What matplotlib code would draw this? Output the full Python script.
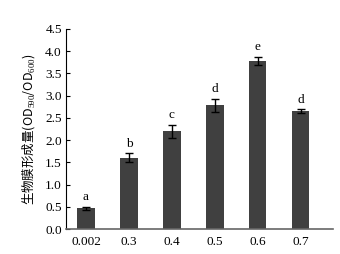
import matplotlib
matplotlib.use("Agg")
import matplotlib.pyplot as plt

categories = ["0.002", "0.3", "0.4", "0.5", "0.6", "0.7"]
values = [0.47, 1.60, 2.20, 2.78, 3.78, 2.65]
errors = [0.03, 0.10, 0.15, 0.15, 0.10, 0.04]
letters = ["a", "b", "c", "d", "e", "d"]
yticks = [0.0, 0.5, 1.0, 1.5, 2.0, 2.5, 3.0, 3.5, 4.0, 4.5]

plt.rcParams['font.family'] = ['Liberation Serif', 'Noto Sans CJK SC']
plt.rcParams['mathtext.fontset'] = 'custom'
plt.rcParams['mathtext.rm'] = 'Liberation Serif'

fig = plt.figure(figsize=(3.4, 2.54), dpi=100)
ax = fig.add_axes([0.194, 0.098, 0.785, 0.788])

x = list(range(len(categories)))
ax.bar(x, values, width=0.4, color='#404040', zorder=2)
ax.errorbar(x, values, yerr=errors, fmt='none', ecolor='black', elinewidth=1.0,
            capsize=3, capthick=1.0, zorder=3)
for xi, v, e, l in zip(x, values, errors, letters):
    ax.text(xi, v + e + 0.08, l, ha='center', va='bottom', fontsize=9.5)

ax.set_xlim(-0.465, 5.744)
ax.set_ylim(0, 4.5)
ax.set_yticks(yticks)
ax.set_yticklabels([f"{t:.1f}" for t in yticks], fontsize=9.5)
ax.set_xticks(x)
ax.set_xticklabels(categories, fontsize=9.5)
ax.tick_params(axis='y', direction='in', length=3, width=0.8, pad=3)
ax.tick_params(axis='x', length=0, pad=5)
for s in ['top', 'right']:
    ax.spines[s].set_visible(False)
ax.spines['left'].set_linewidth(0.8)
ax.spines['bottom'].set_color('#666666')
ax.spines['bottom'].set_linewidth(1.2)

ax.set_ylabel("生物膜形成量(OD$_{590}$/OD$_{600}$)", fontsize=9,
              family=['Noto Sans CJK SC', 'Liberation Serif'], labelpad=6)

fig.savefig("out.png", dpi=100)
